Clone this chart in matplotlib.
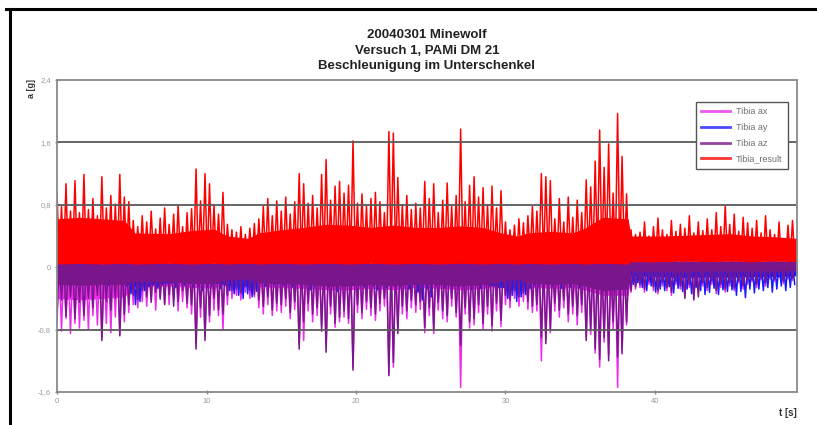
import numpy as np
import matplotlib.pyplot as plt
from matplotlib.lines import Line2D

plt.rcParams['font.family'] = ['Liberation Sans', 'DejaVu Sans']

# sample clock of the logger (s)
DT = 0.15

# accelerations in 1/100 g, one row = 10 samples = 1.5 s
tibia_result = [
    95, 8, 78, 12, 107, 5, 72, 14, 111, 9,
    70, 10, 119, 6, 74, 13, 88, 7, 66, 11,
    116, 9, 76, 14, 92, 6, 81, 12, 119, 8,
    90, 11, 84, 7, 60, 13, 52, 9, 66, 12,
    58, 8, 72, 14, 49, 6, 63, 11, 76, 9,
    55, 12, 68, 7, 79, 13, 52, 8, 70, 10,
    75, 10, 126, 7, 85, 12, 120, 6, 107, 11,
    80, 9, 68, 13, 96, 8, 55, 12, 48, 7,
    45, 10, 52, 6, 42, 11, 50, 8, 56, 9,
    62, 12, 78, 7, 88, 10, 66, 13, 85, 8,
    72, 9, 90, 14, 68, 7, 84, 11, 120, 10,
    107, 8, 82, 13, 92, 6, 76, 12, 119, 9,
    138, 11, 86, 7, 104, 12, 110, 8, 95, 13,
    105, 9, 162, 10, 82, 6, 94, 12, 78, 8,
    88, 11, 96, 7, 84, 13, 70, 9, 174, 12,
    172, 8, 115, 11, 80, 6, 92, 12, 74, 10,
    82, 9, 76, 13, 110, 7, 88, 11, 107, 8,
    70, 12, 86, 6, 108, 10, 78, 9, 92, 13,
    177, 8, 84, 11, 105, 7, 116, 12, 90, 9,
    102, 10, 80, 6, 104, 13, 76, 8, 98, 11,
    58, 7, 48, 12, 54, 9, 62, 10, 57, 8,
    66, 12, 78, 7, 72, 11, 120, 9, 116, 6,
    111, 10, 62, 8, 88, 13, 58, 7, 90, 11,
    64, 9, 86, 12, 70, 8, 112, 11, 103, 7,
    136, 12, 176, 9, 128, 14, 158, 8, 95, 13,
    197, 10, 142, 11, 94, 8, 48, 9, 42, 7,
    45, 8, 58, 10, 40, 6, 52, 9, 63, 11,
    48, 7, 42, 10, 60, 8, 46, 11, 55, 6,
    50, 9, 66, 7, 44, 12, 58, 8, 47, 10,
    62, 8, 48, 11, 70, 7, 52, 10, 79, 9,
    55, 7, 68, 10, 46, 8, 64, 11, 57, 6,
    50, 10, 60, 7, 44, 9, 66, 8, 48, 11,
    42, 7, 58, 10, 36, 8, 54, 9, 60, 10,
]

tibia_ax = [
    -70, 3, -82, 6, -66, 2, -85, 5, -72, 4,
    -78, 5, -68, 2, -80, 7, -62, 3, -74, 6,
    -90, 4, -72, 6, -84, 3, -64, 5, -86, 2,
    -70, 6, -58, 3, -48, 7, -52, 4, -44, 5,
    -50, 2, -42, 6, -55, 4, -38, 3, -46, 7,
    -48, 5, -40, 3, -56, 6, -44, 2, -52, 4,
    -60, 7, -98, 4, -64, 5, -88, 6, -70, 3,
    -55, 4, -62, 6, -81, 3, -48, 7, -40, 2,
    -36, 5, -42, 3, -32, 6, -40, 4, -38, 7,
    -52, 3, -60, 7, -48, 4, -62, 2, -56, 6,
    -58, 6, -50, 4, -66, 7, -54, 3, -98, 5,
    -94, 4, -56, 7, -70, 2, -62, 6, -75, 3,
    -100, 5, -60, 3, -77, 8, -70, 4, -64, 7,
    -72, 2, -128, 6, -58, 4, -66, 7, -54, 3,
    -62, 7, -68, 3, -56, 6, -50, 4, -136, 5,
    -128, 4, -80, 7, -60, 2, -66, 6, -52, 3,
    -58, 6, -54, 4, -84, 7, -62, 3, -85, 5,
    -55, 3, -66, 6, -70, 4, -50, 7, -64, 2,
    -154, 5, -60, 7, -78, 3, -74, 6, -58, 4,
    -80, 6, -60, 4, -82, 7, -56, 3, -76, 5,
    -48, 4, -52, 7, -40, 3, -50, 6, -44, 5,
    -54, 6, -58, 3, -56, 7, -120, 4, -92, 5,
    -84, 3, -56, 7, -64, 4, -52, 6, -70, 2,
    -60, 5, -74, 3, -58, 7, -90, 4, -86, 6,
    -110, 6, -128, 3, -96, 7, -112, 4, -80, 5,
    -154, 4, -104, 7, -74, 3, -32, 5, -28, 2,
    -26, 3, -32, 6, -22, 2, -30, 5, -34, 4,
    -24, 5, -30, 3, -36, 6, -22, 4, -28, 2,
    -34, 4, -26, 6, -36, 3, -32, 5, -24, 7,
    -30, 3, -22, 5, -34, 2, -26, 6, -32, 4,
    -24, 6, -30, 3, -20, 5, -28, 2, -22, 4,
    -18, 4, -26, 6, -16, 3, -24, 5, -15, 2,
    -18, 3, -13, 5, -21, 4, -15, 6, -17, 3,
]

tibia_ay = [
    5, -19, 8, -16, 3, -22, 6, -18, 4, -21,
    7, -15, 4, -20, 9, -17, 5, -22, 6, -14,
    3, -19, 8, -23, 5, -18, 7, -21, 4, -24,
    6, -24, 4, -34, 7, -48, 3, -44, 8, -30,
    5, -25, 8, -19, 4, -27, 6, -22, 7, -18,
    4, -20, 7, -26, 5, -17, 9, -23, 3, -19,
    6, -26, 4, -23, 8, -30, 5, -25, 7, -24,
    3, -21, 6, -27, 4, -23, 8, -30, 5, -34,
    7, -36, 5, -40, 9, -34, 4, -38, 6, -31,
    4, -19, 8, -24, 5, -17, 7, -22, 3, -20,
    6, -23, 3, -18, 8, -25, 5, -20, 7, -27,
    5, -22, 7, -29, 4, -24, 9, -19, 6, -26,
    8, -25, 4, -20, 6, -31, 3, -23, 7, -19,
    5, -27, 7, -22, 4, -19, 8, -25, 6, -21,
    3, -24, 6, -29, 8, -21, 5, -26, 7, -23,
    6, -19, 4, -25, 7, -22, 5, -28, 3, -20,
    8, -32, 5, -42, 6, -28, 4, -38, 7, -24,
    4, -22, 7, -26, 5, -19, 8, -24, 6, -21,
    7, -25, 3, -21, 6, -29, 4, -23, 8, -27,
    5, -20, 8, -24, 4, -18, 7, -26, 6, -22,
    3, -40, 6, -36, 8, -44, 5, -38, 7, -35,
    6, -27, 4, -23, 7, -25, 5, -29, 8, -21,
    5, -24, 8, -19, 4, -27, 6, -22, 3, -25,
    7, -21, 5, -26, 8, -23, 4, -19, 6, -24,
    4, -25, 6, -29, 5, -22, 7, -27, 3, -23,
    6, -29, 8, -24, 4, -22, 7, -22, 5, -20,
    8, -26, 5, -30, 7, -24, 4, -32, 6, -28,
    5, -30, 7, -25, 4, -33, 8, -27, 6, -31,
    7, -28, 4, -34, 6, -26, 5, -30, 8, -35,
    4, -32, 8, -27, 5, -35, 7, -29, 3, -31,
    6, -29, 4, -36, 8, -31, 5, -39, 7, -28,
    5, -33, 7, -28, 4, -30, 6, -26, 8, -32,
    7, -28, 5, -24, 6, -30, 8, -26, 4, -22,
]

tibia_az = [
    -58, 6, -42, 9, -63, 4, -38, 8, -66, 5,
    -45, 7, -62, 3, -40, 10, -52, 5, -36, 8,
    -94, 5, -44, 8, -55, 4, -40, 9, -88, 6,
    -60, 8, -48, 5, -36, 10, -42, 6, -30, 7,
    -38, 4, -45, 9, -32, 6, -41, 3, -48, 8,
    -35, 7, -50, 5, -44, 10, -30, 6, -46, 4,
    -48, 9, -105, 5, -52, 7, -94, 8, -62, 6,
    -40, 6, -55, 8, -60, 4, -36, 9, -30, 5,
    -28, 7, -33, 5, -25, 9, -30, 6, -35, 8,
    -42, 5, -50, 10, -38, 6, -55, 4, -46, 9,
    -48, 8, -40, 6, -58, 9, -44, 5, -105, 7,
    -70, 6, -46, 9, -60, 4, -52, 8, -82, 5,
    -109, 7, -50, 5, -72, 10, -64, 6, -56, 9,
    -66, 4, -132, 8, -48, 6, -58, 9, -44, 5,
    -52, 9, -60, 5, -46, 8, -40, 6, -139, 7,
    -122, 6, -85, 9, -50, 4, -56, 8, -42, 5,
    -48, 8, -44, 6, -77, 9, -52, 5, -80, 7,
    -45, 5, -56, 8, -62, 6, -40, 9, -58, 4,
    -100, 7, -52, 9, -70, 5, -66, 8, -48, 6,
    -72, 8, -50, 6, -75, 9, -46, 5, -68, 7,
    -36, 6, -42, 9, -30, 5, -38, 8, -33, 7,
    -44, 8, -50, 6, -48, 9, -90, 5, -98, 7,
    -80, 6, -46, 9, -55, 5, -42, 8, -60, 4,
    -50, 7, -62, 5, -48, 9, -94, 6, -80, 8,
    -105, 8, -118, 5, -90, 9, -120, 6, -70, 7,
    -115, 6, -111, 9, -70, 5, -30, 7, -25, 4,
    -22, 5, -28, 8, -18, 4, -25, 7, -30, 6,
    -20, 7, -26, 5, -32, 8, -18, 6, -24, 4,
    -40, 6, -22, 8, -42, 5, -38, 7, -20, 9,
    -26, 5, -18, 7, -30, 4, -22, 8, -28, 6,
    -20, 8, -27, 5, -17, 7, -24, 4, -19, 6,
    -16, 6, -22, 8, -14, 5, -20, 7, -12, 4,
    -15, 5, -10, 7, -18, 6, -12, 8, -14, 5,
]

# dense band of each trace (1/100 g): knot times in s, band edges
band_t = [0, 1.5, 3, 4.5, 5.2, 7.5, 9, 10.5, 11.4, 12.8,
          13.5, 15, 16.5, 18, 19.5, 21, 22.5, 24, 25.5, 27,
          28.5, 29.7, 30.8, 31.5, 33, 34.5, 35.3, 36.5, 38.2, 38.4,
          40.5, 42, 43.5, 45, 46.5, 48, 49.5]
result_top = [62, 64, 62, 60, 44, 43, 47, 49, 40, 37,
              44, 48, 51, 55, 54, 51, 54, 51, 51, 53,
              51, 44, 40, 44, 46, 44, 50, 64, 62, 40,
              40, 41, 42, 43, 40, 39, 37]
result_bot = [4, 5, 4, 5, 4, 5, 4, 5, 4, 5,
              4, 5, 4, 5, 4, 5, 4, 5, 4, 5,
              4, 5, 4, 5, 4, 5, 4, 5, 4, 7,
              7, 8, 7, 8, 7, 8, 7]
ax_bot = [-40, -42, -40, -38, -25, -24, -26, -27, -21, -20,
          -25, -26, -27, -29, -29, -27, -29, -26, -27, -29,
          -27, -24, -21, -26, -27, -26, -29, -36, -36, -12,
          -13, -14, -13, -12, -12, -11, -10]
ay_bot = [-20, -21, -20, -21, -25, -20, -19, -20, -22, -24,
          -19, -20, -19, -21, -20, -19, -21, -22, -20, -19,
          -21, -26, -27, -20, -19, -21, -20, -24, -23, -11,
          -12, -13, -12, -13, -12, -12, -11]
az_bot = [-22, -23, -22, -22, -18, -18, -21, -21, -16, -15,
          -20, -21, -22, -24, -24, -22, -24, -21, -22, -24,
          -22, -18, -15, -20, -22, -21, -24, -30, -28, -5,
          -6, -6, -5, -5, -5, -5, -4]

labels = ['Tibia ax', 'Tibia ay', 'Tibia az', 'Tibia_result']
colors = ['#ec2cec', '#1a1aff', '#7a168c', '#ff0000']
y_ticks = [-1.6, -0.8, 0, 0.8, 1.6, 2.4]
y_ticklabels = ['-1,6', '-0,8', '0', '0,8', '1,6', '2,4']
x_ticks = [0, 10, 20, 30, 40]

t = np.arange(len(tibia_result)) * DT
bt = np.array(band_t)

fig = plt.figure(figsize=(8.17, 4.25), dpi=100)
ax = fig.add_axes([0.0698, 0.0776, 0.9057, 0.7341])

traces = [tibia_ax, tibia_ay, tibia_az, tibia_result]
edges = [(ax_bot, result_bot), (ay_bot, result_bot), (az_bot, result_bot),
         (result_bot, result_top)]
for k, (vals, (lo, hi), col, lbl) in enumerate(zip(traces, edges, colors, labels)):
    ax.fill_between(bt, np.array(lo) / 100, np.array(hi) / 100, color=col,
                    lw=0, zorder=2 + 2 * k)
    ax.plot(t, np.array(vals) / 100, color=col, lw=1.1, label=lbl, zorder=3 + 2 * k)

ax.set_xlim(0, 49.5)
ax.set_ylim(-1.6, 2.4)
ax.set_yticks(y_ticks)
ax.set_yticklabels(y_ticklabels)
ax.set_xticks(x_ticks)

# horizontal grid lines sit on top of the traces
for yv in [-0.8, 0.8, 1.6]:
    ax.axhline(yv, color='#5a5a5a', lw=1.3, zorder=12)

for s in ax.spines.values():
    s.set_color('#8a8a8a')
    s.set_linewidth(1.3)
    s.set_zorder(13)
ax.tick_params(axis='both', colors='#8a8a8a', labelcolor='#9a9a9a', labelsize=5.5,
               length=3, width=1, direction='inout', pad=3)

leg = ax.legend(loc='upper right', bbox_to_anchor=(0.988, 0.93), borderaxespad=0,
                fontsize=6.5, handlelength=3.2, handletextpad=0.7, labelspacing=0.75,
                borderpad=0.6, fancybox=False, framealpha=1, edgecolor='#555555')
leg.set_zorder(20)
leg.get_frame().set_linewidth(1.0)
for txt in leg.get_texts():
    txt.set_color('#707070')
for h in leg.get_lines():
    h.set_linewidth(2.0)
    h.set_alpha(0.8)

# titles and axis captions
fx = 427 / 817
for ty, line in zip([35, 51, 66.5], ['20040301 Minewolf', 'Versuch 1, PAMi DM 21',
                                     'Beschleunigung im Unterschenkel']):
    fig.text(fx, 1 - ty / 425, line, ha='center', va='center',
             fontsize=9.5, fontweight='bold', color='#222222')
fig.text(31 / 817, 1 - 88 / 425, 'a [g]', rotation=90, ha='center', va='center',
         fontsize=6.5, fontweight='bold', color='#333333')
fig.text(788 / 817, 1 - 413 / 425, 't [s]', ha='center', va='center',
         fontsize=7, fontweight='bold', color='#333333')

# black frame around the sheet (top and left)
fig.add_artist(Line2D([6 / 817, 1], [1 - 9 / 425] * 2, transform=fig.transFigure,
                      color='black', lw=2.2))
fig.add_artist(Line2D([9.5 / 817] * 2, [0, 1 - 9 / 425], transform=fig.transFigure,
                      color='black', lw=2.2))

fig.savefig('out.png', dpi=100)
